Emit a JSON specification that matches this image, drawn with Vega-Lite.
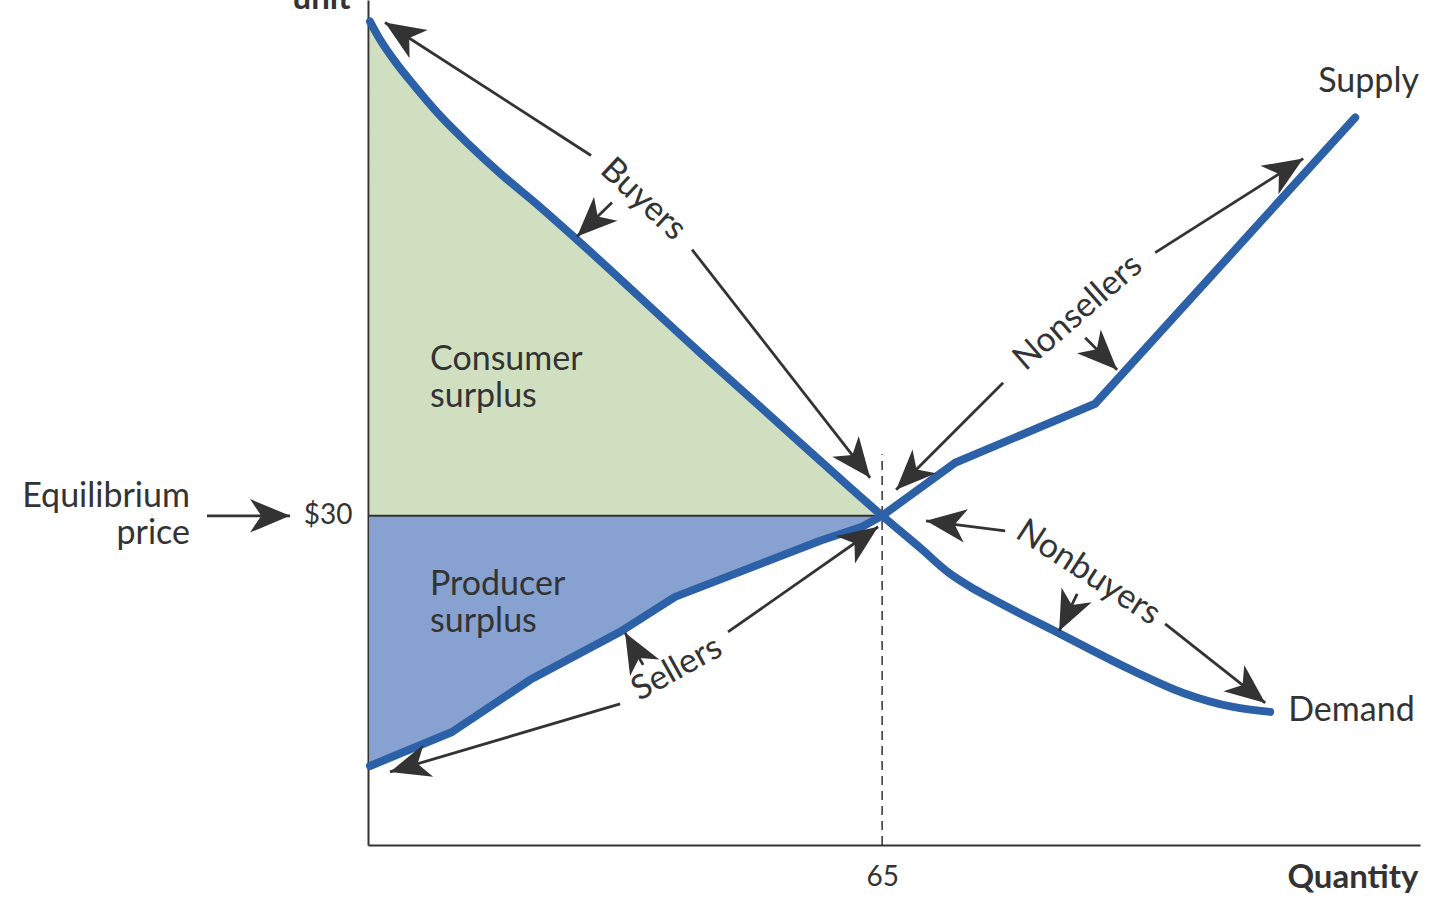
{
  "$schema": "https://vega.github.io/schema/vega-lite/v6.json",
  "autosize": {"type": "none"},
  "padding": {"left": 368, "top": 0, "right": 28, "bottom": 60},
  "width": 1052,
  "height": 845,
  "background": "white",
  "config": {
    "view": {"stroke": null},
    "font": "Lato",
    "text": {"font": "Lato", "color": "#333333", "fontSize": 34}
  },
  "datasets": {
    "demand": [
      {"q": 0.25, "p": 75.04}, {"q": 1.52, "p": 73.4}, {"q": 3.41, "p": 71.4}, {"q": 5.94, "p": 69.12},
      {"q": 9.1, "p": 66.47}, {"q": 12.9, "p": 63.74}, {"q": 16.69, "p": 61.22}, {"q": 21.75, "p": 58.14},
      {"q": 26.18, "p": 55.31}, {"q": 41.98, "p": 44.86}, {"q": 54.63, "p": 36.66}, {"q": 65, "p": 30},
      {"q": 69.8, "p": 27.08}, {"q": 73.6, "p": 24.71}, {"q": 76.13, "p": 23.53}, {"q": 78.65, "p": 22.52},
      {"q": 87.51, "p": 19.24}, {"q": 96.74, "p": 15.87}, {"q": 103.06, "p": 13.86},
      {"q": 109.38, "p": 12.58}, {"q": 114.06, "p": 12.13}
    ],
    "supply": [
      {"q": 0.25, "p": 7.2}, {"q": 10.62, "p": 10.3}, {"q": 20.49, "p": 15.05}, {"q": 31.87, "p": 19.42},
      {"q": 38.82, "p": 22.61}, {"q": 57.16, "p": 27.72}, {"q": 62.47, "p": 29.0}, {"q": 65, "p": 30},
      {"q": 74.23, "p": 34.83}, {"q": 91.93, "p": 40.21}, {"q": 124.81, "p": 66.29}
    ],
    "arrows": [
      {"q0": 28.2, "p0": 62.83, "q1": 2.15, "p1": 74.95, "heading": 302.8},
      {"q0": 30.85, "p0": 58.54, "q1": 26.43, "p1": 55.44, "heading": 225.8},
      {"q0": 40.97, "p0": 54.25, "q1": 63.48, "p1": 33.46, "heading": 142.0},
      {"q0": 99.52, "p0": 53.98, "q1": 118.24, "p1": 62.55, "heading": 57.6},
      {"q0": 90.67, "p0": 46.23, "q1": 94.71, "p1": 43.31, "heading": 135.0},
      {"q0": 80.3, "p0": 42.13, "q1": 66.77, "p1": 32.37, "heading": 225.0},
      {"q0": 80.55, "p0": 28.63, "q1": 70.56, "p1": 29.54, "heading": 277.2},
      {"q0": 89.66, "p0": 22.89, "q1": 87.38, "p1": 19.51, "heading": 205.9},
      {"q0": 100.78, "p0": 20.15, "q1": 113.43, "p1": 12.95, "heading": 128.3},
      {"q0": 45.52, "p0": 19.42, "q1": 64.49, "p1": 29.0, "heading": 55.0},
      {"q0": 34.78, "p0": 16.41, "q1": 32.5, "p1": 19.33, "heading": 330.6},
      {"q0": 31.87, "p0": 12.86, "q1": 2.78, "p1": 6.66, "heading": 253.5},
      {"q0": -20.36, "p0": 30, "q1": -9.86, "p1": 30, "heading": 90}
    ],
    "leftlabels": [
      {"q": 7.84, "p": 44.22, "label": "Consumer\nsurplus"},
      {"q": 7.84, "p": 23.71, "label": "Producer\nsurplus"},
      {"q": 120.13, "p": 69.57, "label": "Supply"},
      {"q": 116.34, "p": 12.22, "label": "Demand"}
    ],
    "eqlabel": [{"q": -22.51, "p": 31.73, "label": "Equilibrium\nprice"}],
    "buyers": [{"q": 34.78, "p": 58.81, "label": "Buyers"}],
    "nonsellers": [{"q": 89.78, "p": 48.51, "label": "Nonsellers"}],
    "nonbuyers": [{"q": 91.05, "p": 24.8, "label": "Nonbuyers"}],
    "sellers": [{"q": 39.07, "p": 16.05, "label": "Sellers"}]
  },
  "layer": [
    {
      "data": {"name": "demand"},
      "transform": [{"filter": "datum.q <= 65"}],
      "mark": {"type": "area", "color": "#d1dfc1", "interpolate": "monotone"},
      "encoding": {
        "x": {"field": "q", "type": "quantitative", "scale": {"domain": [0, 133], "nice": false, "zero": false},
          "axis": {"title": "Quantity", "values": [65], "grid": false, "ticks": false, "tickSize": 0,
            "domainColor": "#333333", "domainWidth": 2, "labelFont": "Lato", "labelFontSize": 28, "labelColor": "#333333",
            "labelPadding": 32, "labelBaseline": "middle",
            "titleFont": "Lato", "titleFontSize": 33, "titleFontWeight": "bold", "titleColor": "#333333",
            "titleAnchor": "end", "titleAlign": "right", "titleX": 1050, "titleY": 32, "titleBaseline": "middle"}},
        "y": {"field": "p", "type": "quantitative", "scale": {"domain": [0, 77], "nice": false, "zero": false},
          "axis": {"title": "unit", "values": [30], "labelExpr": "'$' + datum.value", "grid": false, "ticks": false, "tickSize": 0,
            "domainColor": "#333333", "domainWidth": 2, "labelFont": "Lato", "labelFontSize": 28, "labelColor": "#333333",
            "labelPadding": 16,
            "titleFont": "Lato", "titleFontSize": 33, "titleFontWeight": "bold", "titleColor": "#333333",
            "titleAngle": 0, "titleAlign": "right", "titleX": -18, "titleY": 8, "titleBaseline": "alphabetic"}},
        "y2": {"datum": 30}
      }
    },
    {
      "data": {"name": "supply"},
      "transform": [{"filter": "datum.q <= 65"}],
      "mark": {"type": "area", "color": "#87a2d0"},
      "encoding": {
        "x": {"field": "q", "type": "quantitative", "scale": {"domain": [0, 133], "nice": false, "zero": false}},
        "y": {"field": "p", "type": "quantitative", "scale": {"domain": [0, 77], "nice": false, "zero": false}},
        "y2": {"datum": 30}
      }
    },
    {
      "data": {"values": [{"q0": 0, "q1": 65, "p": 30}]},
      "mark": {"type": "rule", "color": "#333333", "strokeWidth": 2},
      "encoding": {
        "x": {"field": "q0", "type": "quantitative", "scale": {"domain": [0, 133], "nice": false, "zero": false}},
        "x2": {"field": "q1"},
        "y": {"field": "p", "type": "quantitative", "scale": {"domain": [0, 77], "nice": false, "zero": false}}
      }
    },
    {
      "data": {"values": [{"q": 65, "p0": 0, "p1": 35.6}]},
      "mark": {"type": "rule", "color": "#333333", "strokeWidth": 1.5, "strokeDash": [9, 6]},
      "encoding": {
        "x": {"field": "q", "type": "quantitative", "scale": {"domain": [0, 133], "nice": false, "zero": false}},
        "y": {"field": "p0", "type": "quantitative", "scale": {"domain": [0, 77], "nice": false, "zero": false}},
        "y2": {"field": "p1"}
      }
    },
    {
      "data": {"name": "demand"},
      "mark": {"type": "line", "color": "#2c61a7", "strokeWidth": 8, "strokeCap": "round", "strokeJoin": "round", "interpolate": "monotone"},
      "encoding": {
        "x": {"field": "q", "type": "quantitative", "scale": {"domain": [0, 133], "nice": false, "zero": false}},
        "y": {"field": "p", "type": "quantitative", "scale": {"domain": [0, 77], "nice": false, "zero": false}}
      }
    },
    {
      "data": {"name": "supply"},
      "mark": {"type": "line", "color": "#2c61a7", "strokeWidth": 8, "strokeCap": "round", "strokeJoin": "round"},
      "encoding": {
        "x": {"field": "q", "type": "quantitative", "scale": {"domain": [0, 133], "nice": false, "zero": false}},
        "y": {"field": "p", "type": "quantitative", "scale": {"domain": [0, 77], "nice": false, "zero": false}}
      }
    },
    {
      "data": {"name": "arrows"},
      "mark": {"type": "rule", "color": "#333333", "strokeWidth": 2.8},
      "encoding": {
        "x": {"field": "q0", "type": "quantitative", "scale": {"domain": [0, 133], "nice": false, "zero": false}},
        "y": {"field": "p0", "type": "quantitative", "scale": {"domain": [0, 77], "nice": false, "zero": false}},
        "x2": {"field": "q1"},
        "y2": {"field": "p1"}
      }
    },
    {
      "data": {"name": "arrows"},
      "mark": {"type": "point", "shape": "M0,0 L0.42,1 L0,0.72 L-0.42,1 Z", "filled": true, "color": "#333333", "opacity": 1, "size": 6400, "strokeWidth": 0},
      "encoding": {
        "x": {"field": "q1", "type": "quantitative", "scale": {"domain": [0, 133], "nice": false, "zero": false}},
        "y": {"field": "p1", "type": "quantitative", "scale": {"domain": [0, 77], "nice": false, "zero": false}},
        "angle": {"field": "heading", "type": "quantitative", "scale": null}
      }
    },
    {
      "data": {"name": "leftlabels"},
      "mark": {"type": "text", "align": "left", "baseline": "middle", "lineBreak": "\n", "lineHeight": 37},
      "encoding": {
        "x": {"field": "q", "type": "quantitative", "scale": {"domain": [0, 133], "nice": false, "zero": false}},
        "y": {"field": "p", "type": "quantitative", "scale": {"domain": [0, 77], "nice": false, "zero": false}},
        "text": {"field": "label", "type": "nominal"}
      }
    },
    {
      "data": {"name": "eqlabel"},
      "mark": {"type": "text", "align": "right", "baseline": "middle", "lineBreak": "\n", "lineHeight": 37},
      "encoding": {
        "x": {"field": "q", "type": "quantitative", "scale": {"domain": [0, 133], "nice": false, "zero": false}},
        "y": {"field": "p", "type": "quantitative", "scale": {"domain": [0, 77], "nice": false, "zero": false}},
        "text": {"field": "label", "type": "nominal"}
      }
    },
    {
      "data": {"name": "buyers"},
      "mark": {"type": "text", "align": "center", "baseline": "middle", "angle": 43},
      "encoding": {
        "x": {"field": "q", "type": "quantitative", "scale": {"domain": [0, 133], "nice": false, "zero": false}},
        "y": {"field": "p", "type": "quantitative", "scale": {"domain": [0, 77], "nice": false, "zero": false}},
        "text": {"field": "label", "type": "nominal"}
      }
    },
    {
      "data": {"name": "nonsellers"},
      "mark": {"type": "text", "align": "center", "baseline": "middle", "angle": -41},
      "encoding": {
        "x": {"field": "q", "type": "quantitative", "scale": {"domain": [0, 133], "nice": false, "zero": false}},
        "y": {"field": "p", "type": "quantitative", "scale": {"domain": [0, 77], "nice": false, "zero": false}},
        "text": {"field": "label", "type": "nominal"}
      }
    },
    {
      "data": {"name": "nonbuyers"},
      "mark": {"type": "text", "align": "center", "baseline": "middle", "angle": 33},
      "encoding": {
        "x": {"field": "q", "type": "quantitative", "scale": {"domain": [0, 133], "nice": false, "zero": false}},
        "y": {"field": "p", "type": "quantitative", "scale": {"domain": [0, 77], "nice": false, "zero": false}},
        "text": {"field": "label", "type": "nominal"}
      }
    },
    {
      "data": {"name": "sellers"},
      "mark": {"type": "text", "align": "center", "baseline": "middle", "angle": -29},
      "encoding": {
        "x": {"field": "q", "type": "quantitative", "scale": {"domain": [0, 133], "nice": false, "zero": false}},
        "y": {"field": "p", "type": "quantitative", "scale": {"domain": [0, 77], "nice": false, "zero": false}},
        "text": {"field": "label", "type": "nominal"}
      }
    }
  ]
}
